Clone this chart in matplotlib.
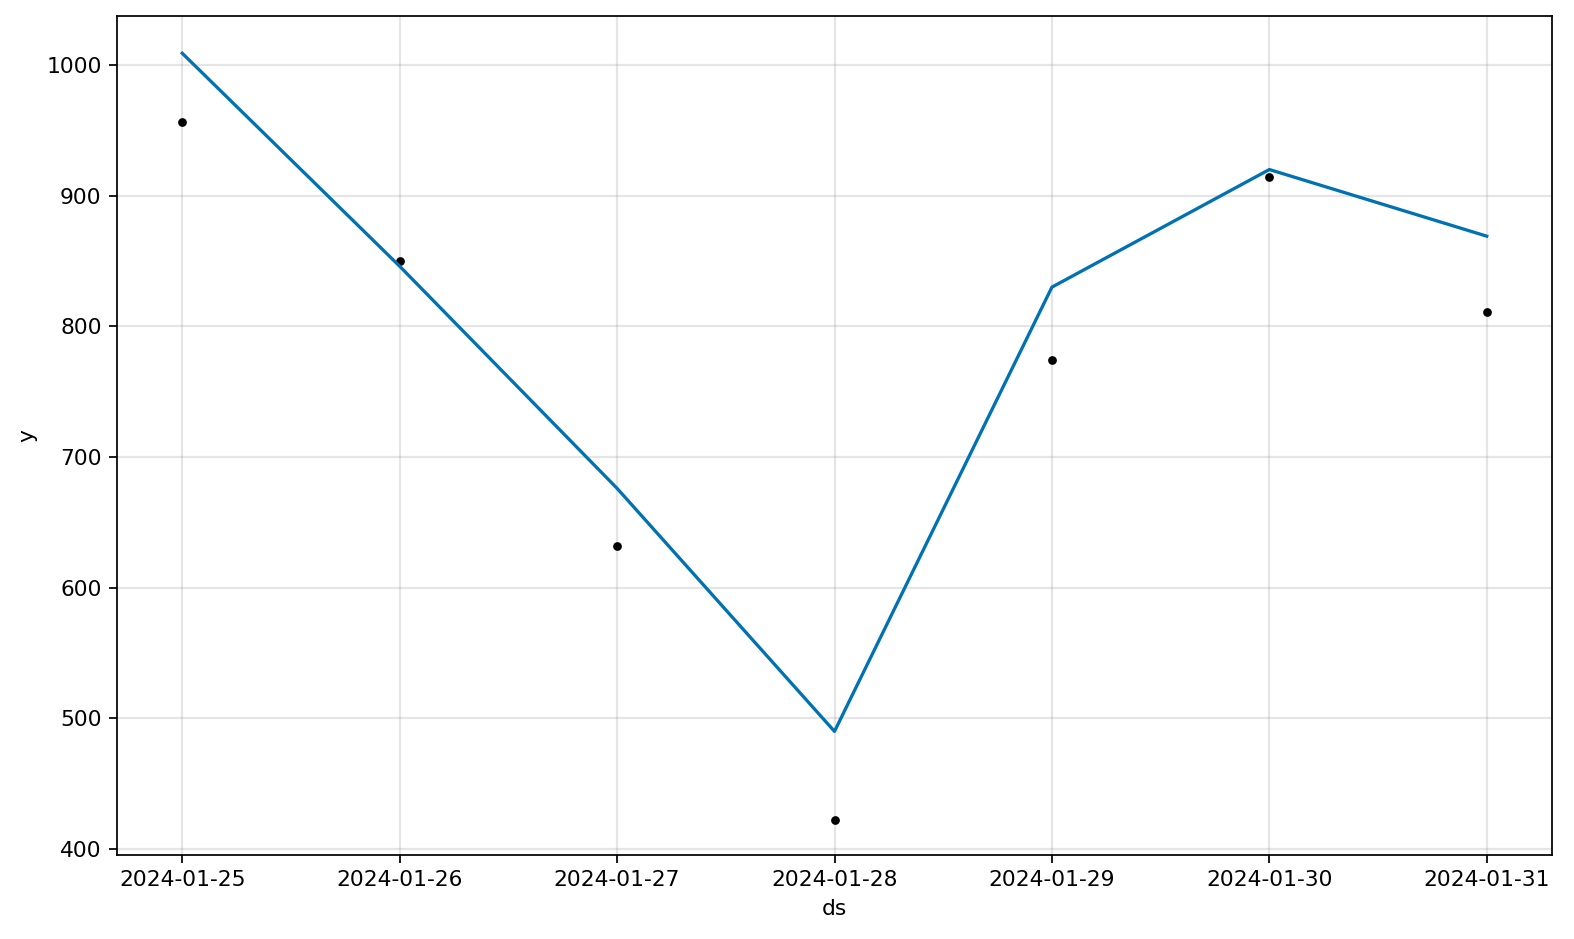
import matplotlib
matplotlib.use("Agg")
import matplotlib.pyplot as plt
import matplotlib.dates as mdates
import pandas as pd

ds = pd.to_datetime([
    "2024-01-25", "2024-01-26", "2024-01-27", "2024-01-28",
    "2024-01-29", "2024-01-30", "2024-01-31",
])
y = [956, 850, 632, 422, 774, 914, 811]
yhat = [1009, 846, 676, 490, 830, 920, 869]

DPI = 157
fig = plt.figure(facecolor="w", figsize=(1574 / DPI, 939 / DPI))
ax = fig.add_axes([117 / 1574, 84 / 939, (1552 - 117) / 1574, (855 - 16) / 939])

ax.plot(ds, y, "k.", markersize=6)
ax.plot(ds, yhat, ls="-", c="#0072B2", lw=1.5)

ax.xaxis.set_major_locator(mdates.DayLocator())
ax.xaxis.set_major_formatter(mdates.DateFormatter("%Y-%m-%d"))
ax.grid(True, which="major", c="gray", ls="-", lw=1, alpha=0.2)
ax.set_xlabel("ds")
ax.set_ylabel("y")
ax.set_ylim(395.4, 1037.5)
ax.set_yticks([400, 500, 600, 700, 800, 900, 1000])

fig.savefig("out.png", dpi=DPI)
